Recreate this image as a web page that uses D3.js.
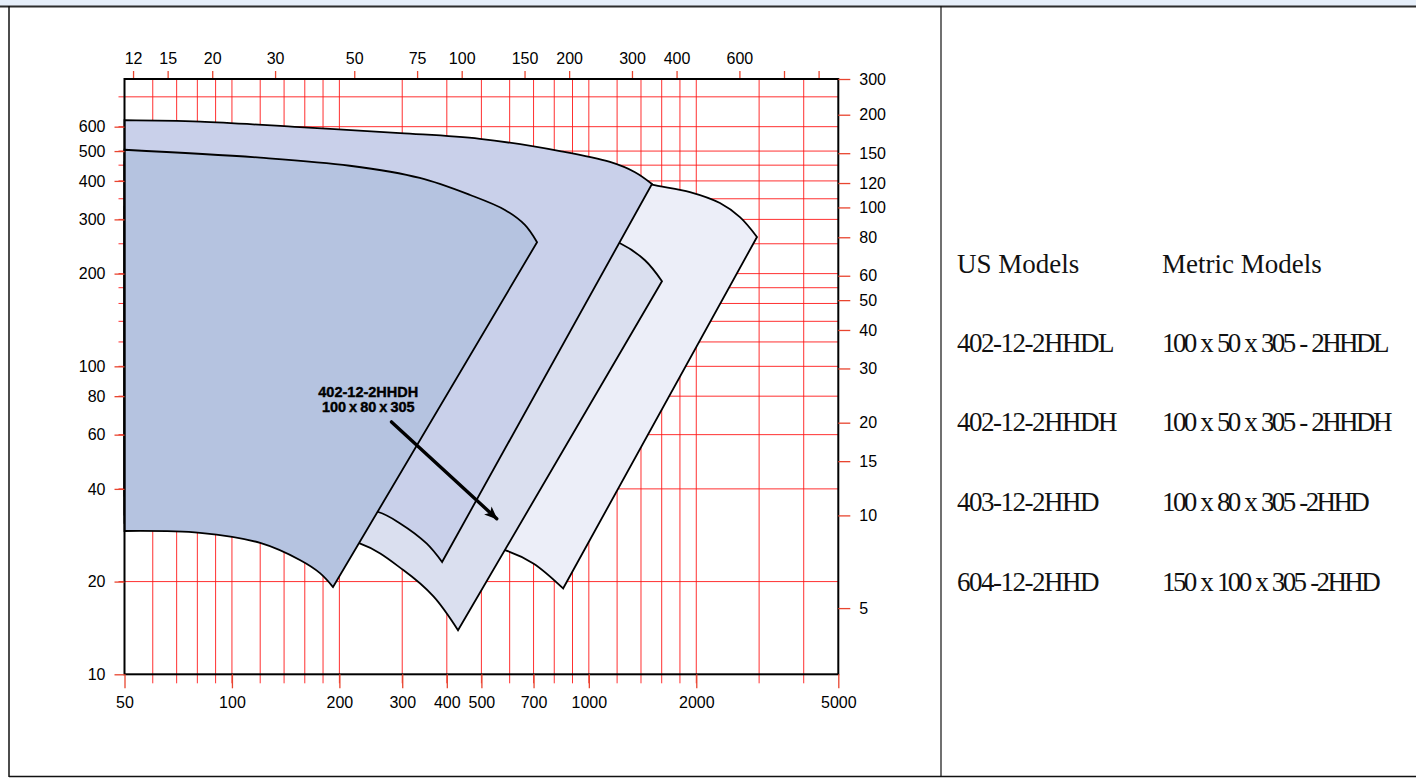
<!DOCTYPE html>
<html>
<head>
<meta charset="utf-8">
<script src="https://cdn.jsdelivr.net/npm/d3@7"></script>
<style>
  body { margin: 0; background: #fff; }
  svg { display: block; }
</style>
</head>
<body>
<svg id="chart" width="1416" height="779"></svg>
<script>
// ---- Axis values: flow in US gpm (bottom), head in feet (left) ----
const flowTicks = [50, 100, 200, 300, 400, 500, 700, 1000, 2000, 5000];
const flowGrid = [60, 70, 80, 90, 100, 120, 140, 160, 180, 200, 300, 400, 500, 600, 700, 800, 900,
                  1000, 1200, 1400, 1600, 1800, 2000, 3000, 4000];
const headTicks = [10, 20, 40, 60, 80, 100, 200, 300, 400, 500, 600];
const headGrid = [20, 40, 60, 80, 100, 120, 140, 160, 180, 200, 250, 300, 350, 400, 450, 500, 600, 750];

// ---- Secondary axes: m3/h (top), metres (right) ----
const metricFlowTicks = [12, 15, 20, 30, 50, 75, 100, 150, 200, 300, 400, 600];
const metricFlowMinor = [800, 1000];
const metricHeadTicks = [5, 10, 15, 20, 30, 40, 50, 60, 80, 100, 120, 150, 200, 300];

// ---- Model list ----
const usModels = ["402-12-2HHDL", "402-12-2HHDH", "403-12-2HHD", "604-12-2HHD"];
const metricModels = ["100 x 50 x 305 - 2HHDL", "100 x 50 x 305 - 2HHDH", "100 x 80 x 305 -2HHD", "150 x 100 x 305 -2HHD"];

// ---- Coverage envelopes [gpm, ft]: max-impeller curve (left to right),
//      then min-impeller curve (right to left); the max-flow edge joins them ----
const envATop = [[50, 505], [120, 476], [214, 448], [336, 409], [465, 360], [582, 322], [662, 288], [716, 253]];
const envABottom = [[192, 19.2], [176.5, 21.3], [155, 23.5], [120, 26.7], [81.4, 28.8], [50, 29.2]];

const envBTop = [[50, 630], [81.4, 623], [155, 598], [296, 572], [495, 548], [830, 500], [1146, 461], [1347, 427], [1503, 391]];
const envBBottom = [[388, 23.15], [351, 26.6], [296, 30.9], [257, 33.65], [180, 35.5], [100, 37], [50, 38]];

const envCTop = [[50, 330], [300, 320], [600, 300], [900, 280], [1223, 251], [1436, 221], [1603, 189]];
const envCBottom = [[430, 13.9], [367, 17.9], [302, 21.8], [228, 26.6], [120, 29.5], [50, 31]];

const envDTop = [[50, 460], [800, 440], [1146, 420], [1400, 400], [1503, 389], [1920, 368], [2330, 339], [2651, 305], [2959, 263]];
const envDBottom = [[847, 19.0], [699, 22.9], [582, 25.3], [400, 27.5], [200, 30], [50, 33]];

// ---- Callout ----
const calloutLines = ["402-12-2HHDH", "100 x 80 x 305"];
const calloutAt = [241, 79.5];
const calloutArrow = [[280, 66], [552, 32]];

// ---- Scales ----
const GPM_TO_M3H = 0.22712;
const FT_PER_M = 3.2808;
const x = d3.scaleLog().domain([50, 5000]).range([124.5, 838.3]);
const y = d3.scaleLog().domain([10, 857]).range([674.3, 79]);
const xMetric = d3.scaleLog().domain(x.domain().map(v => v * GPM_TO_M3H)).range(x.range());
const yMetric = d3.scaleLog().domain(y.domain().map(v => v / FT_PER_M)).range(y.range()).clamp(true);

const [xL, xR] = x.range();
const [yB, yT] = y.range();

const svg = d3.select("#chart");
const FONT = "'Liberation Sans', Arial, sans-serif";
const TICK = "#e8452f";

// ---- Page frame ----
svg.append("rect").attr("x", 0).attr("y", 0).attr("width", 1416).attr("height", 6).attr("fill", "#e6effa");
svg.append("line").attr("x1", 0).attr("x2", 1416).attr("y1", 6.5).attr("y2", 6.5)
  .attr("stroke", "#2d2d2d").attr("stroke-width", 2);
svg.append("line").attr("x1", 9).attr("x2", 9).attr("y1", 6).attr("y2", 777)
  .attr("stroke", "#111").attr("stroke-width", 1.5);
svg.append("line").attr("x1", 9).attr("x2", 1416).attr("y1", 776.5).attr("y2", 776.5)
  .attr("stroke", "#111").attr("stroke-width", 1.5);
svg.append("line").attr("x1", 941).attr("x2", 941).attr("y1", 6).attr("y2", 777)
  .attr("stroke", "#111").attr("stroke-width", 1.2);

// ---- Grid ----
const grid = svg.append("g").attr("stroke", "#ff1a1a").attr("stroke-opacity", 0.9).attr("stroke-width", 1);
grid.selectAll("line.v").data(flowGrid).join("line").attr("class", "v")
  .attr("x1", d => x(d)).attr("x2", d => x(d)).attr("y1", yT).attr("y2", yB + 9);
grid.selectAll("line.h").data(headGrid).join("line").attr("class", "h")
  .attr("x1", xL - 6).attr("x2", xR).attr("y1", d => y(d)).attr("y2", d => y(d));

// ---- Coverage envelopes ----
const curve = d3.line().x(d => x(d[0])).y(d => y(d[1])).curve(d3.curveCatmullRom.alpha(0.5));
const envelope = (top, bottom) => curve(top) + curve(bottom).replace(/^M/, "L") + "Z";

const envelopes = [
  {top: envDTop, bottom: envDBottom, fill: "#eceef8"},
  {top: envCTop, bottom: envCBottom, fill: "#dadfef"},
  {top: envBTop, bottom: envBBottom, fill: "#c9d0ea"},
  {top: envATop, bottom: envABottom, fill: "#b5c3e0"}
];
svg.append("g").selectAll("path").data(envelopes).join("path")
  .attr("d", d => envelope(d.top, d.bottom))
  .attr("fill", d => d.fill)
  .attr("stroke", "#000").attr("stroke-width", 1.8).attr("stroke-linejoin", "miter");

// ---- Callout ----
const defs = svg.append("defs");
defs.append("marker").attr("id", "head").attr("viewBox", "0 0 12 10")
  .attr("refX", 11).attr("refY", 5).attr("markerWidth", 14).attr("markerHeight", 11)
  .attr("markerUnits", "userSpaceOnUse").attr("orient", "auto")
  .append("path").attr("d", "M0,0L12,5L0,10L3,5Z").attr("fill", "#000");

svg.append("line")
  .attr("x1", x(calloutArrow[0][0])).attr("y1", y(calloutArrow[0][1]))
  .attr("x2", x(calloutArrow[1][0])).attr("y2", y(calloutArrow[1][1]))
  .attr("stroke", "#000").attr("stroke-width", 3.4).attr("stroke-linecap", "round")
  .attr("marker-end", "url(#head)");

const callout = svg.append("text")
  .attr("x", x(calloutAt[0])).attr("y", y(calloutAt[1]))
  .attr("text-anchor", "middle").attr("font-family", FONT).attr("font-weight", "bold")
  .attr("font-size", 14.5).attr("word-spacing", -1).attr("fill", "#000")
  .attr("stroke", "#000").attr("stroke-width", 0.4);
callout.selectAll("tspan").data(calloutLines).join("tspan")
  .attr("x", x(calloutAt[0])).attr("dy", (d, i) => i === 0 ? 0 : 15).text(d => d);

// ---- Plot frame ----
svg.append("rect").attr("x", xL).attr("y", yT).attr("width", xR - xL).attr("height", yB - yT)
  .attr("fill", "none").attr("stroke", "#000").attr("stroke-width", 2);

// ---- Axes ----
function styleAxis(g) {
  g.attr("font-family", FONT).attr("font-size", 16);
  g.select(".domain").remove();
  g.selectAll(".tick line").attr("stroke", TICK).attr("stroke-width", 1.3);
  g.selectAll(".tick text").attr("fill", "#000");
}

svg.append("g").attr("transform", `translate(0,${yB})`)
  .call(d3.axisBottom(x).tickValues(flowTicks).tickFormat(d => String(d)).tickSize(14).tickPadding(8))
  .call(styleAxis);

svg.append("g").attr("transform", `translate(${xL},0)`)
  .call(d3.axisLeft(y).tickValues(headTicks).tickFormat(d => String(d)).tickSize(10).tickPadding(9))
  .call(styleAxis);

svg.append("g").attr("transform", `translate(0,${yT - 1})`)
  .call(d3.axisTop(xMetric).tickValues(metricFlowTicks.concat(metricFlowMinor))
    .tickFormat(d => metricFlowTicks.includes(d) ? String(d) : "").tickSize(7).tickPadding(7))
  .call(styleAxis);

svg.append("g").attr("transform", `translate(${xR},0)`)
  .call(d3.axisRight(yMetric).tickValues(metricHeadTicks).tickFormat(d => String(d)).tickSize(12).tickPadding(9))
  .call(styleAxis);

// ---- Model table ----
const table = svg.append("g").attr("font-family", "'Liberation Serif', 'Times New Roman', serif")
  .attr("font-size", 27).attr("fill", "#111");
table.append("text").attr("x", 957).attr("y", 273).text("US Models");
table.append("text").attr("x", 1162).attr("y", 273).text("Metric Models");
const rowY = [352, 431, 511, 591];
table.selectAll("text.us").data(usModels).join("text").attr("class", "us")
  .attr("x", 957).attr("y", (d, i) => rowY[i])
  .attr("letter-spacing", -1.5).text(d => d);
table.selectAll("text.metric").data(metricModels).join("text").attr("class", "metric")
  .attr("x", 1162).attr("y", (d, i) => rowY[i])
  .attr("letter-spacing", -2.6).attr("word-spacing", 1.5).text(d => d);
</script>
</body>
</html>
